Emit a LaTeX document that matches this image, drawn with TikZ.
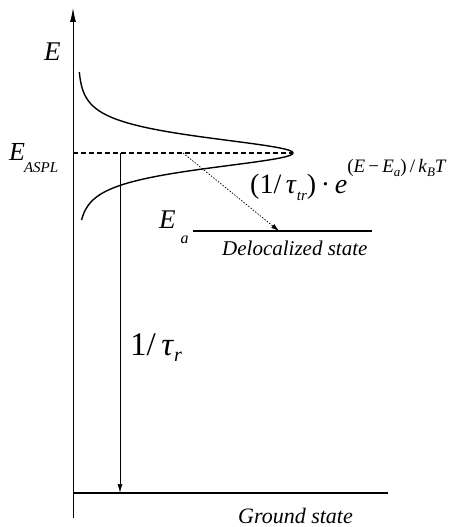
\documentclass[tikz,border=0pt]{standalone}
\usepackage{fontspec}
\setmainfont{Liberation Serif}
\usetikzlibrary{arrows.meta}
\begin{document}
\begin{tikzpicture}[x=1pt,y=-1pt,
  txt/.style={inner sep=0pt,anchor=base west},
  level/.style={line width=1.8pt},
  thinarrow/.style={line width=0.7pt,-{Latex[length=9pt,width=5pt]}},
  dotarrow/.style={line width=0.7pt,dash pattern=on 1.5pt off 1.5pt,-{Latex[length=8pt,width=5pt]}}]
\useasboundingbox (0,0) rectangle (454,527);
% axis
\coordinate (axb) at (73,518);
\coordinate (axt) at (73,8);
\draw[line width=0.9pt,-{Latex[length=14pt,width=6pt]}] (axb) -- (axt);
\node[txt] (E) at (44,60) {\fontsize{27}{30}\selectfont\itshape E};
% ground state
\coordinate (g0) at (73,493);
\coordinate (g1) at (388,493);
\draw[level] (g0) -- (g1);
\node[txt] (gs) at (238,523) {\fontsize{22}{26}\selectfont\itshape Ground state};
% density of states curve
\draw[line width=1.4pt,variable=\t,domain=-81:67,samples=200,smooth]
  plot ({78+215*2/(exp(\t/14)+exp(-\t/14))},{153+\t});
% E_ASPL dashed
\coordinate (d0) at (73,153);
\coordinate (d1) at (293,153);
\draw[line width=1.2pt,dash pattern=on 5pt off 3pt] (d0) -- (d1);
\node[txt] (easpl) at (9,160) {\fontsize{26}{30}\selectfont\itshape E\kern-1pt\raisebox{-12pt}{\fontsize{15}{18}\selectfont ASPL}};
% radiative arrow
\coordinate (r0) at (120,153);
\coordinate (r1) at (120,493);
\draw[thinarrow] (r0) -- (r1);
\node[txt] (rad) at (130,355) {\fontsize{33}{36}\selectfont 1/\,\textit{τ}\raisebox{-6pt}{\fontsize{20}{22}\selectfont\textit{r}}};
% delocalized state
\coordinate (a0) at (193,231);
\coordinate (a1) at (372,231);
\draw[level] (a0) -- (a1);
\node[txt] (ea) at (159,228) {\fontsize{27}{30}\selectfont\itshape E\kern5pt\raisebox{-15pt}{\fontsize{16}{18}\selectfont a}};
\node[txt] (dl) at (222,255) {\fontsize{21}{24}\selectfont\itshape Delocalized state};
% transfer arrow
\coordinate (t0) at (183,153);
\coordinate (t1) at (279,231);
\draw[dotarrow] (t0) -- (t1);
\node[txt] (rate) at (250,193) {\fontsize{28}{32}\selectfont (1/\,\textit{τ}\raisebox{-7pt}{\fontsize{15}{16}\selectfont\textit{tr}})\,·\,\textit{e}\raisebox{21pt}{\fontsize{19}{20}\selectfont(\textit{E}\,−\,\textit{E}\raisebox{-4pt}{\fontsize{13}{14}\selectfont\textit{a}})\,/\,\textit{k}\raisebox{-4pt}{\fontsize{13}{14}\selectfont\textit{B}}\textit{T}}};
\end{tikzpicture}
\end{document}
